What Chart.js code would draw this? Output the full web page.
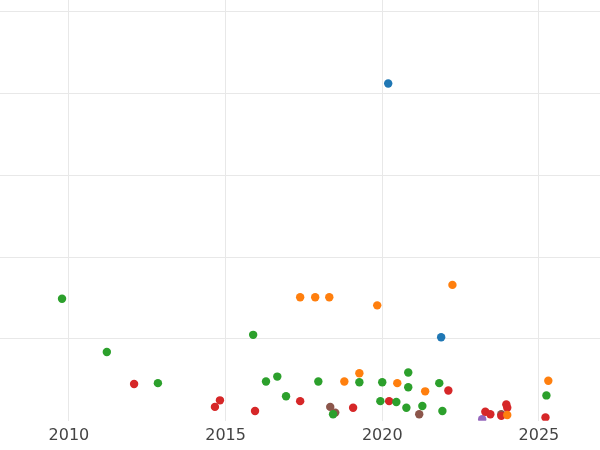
<!DOCTYPE html>
<html>
<head>
<meta charset="utf-8">
<script src="https://cdn.jsdelivr.net/npm/chart.js@4"></script>
<style>
  html, body { margin: 0; padding: 0; background: #fff; }
  #wrap { width: 600px; height: 450px; }
</style>
</head>
<body>
<div id="wrap"><canvas id="chart"></canvas></div>
<script>
// x = year, y = value
var blueX = [2020.19, 2021.88];
var blueY = [4.12, 1.02];
var orangeX = [2017.38, 2017.86, 2018.31, 2019.84, 2022.24, 2019.27, 2018.79, 2020.48, 2021.37, 2025.30, 2023.99];
var orangeY = [1.51, 1.51, 1.51, 1.41, 1.66, 0.58, 0.48, 0.46, 0.36, 0.49, 0.07];
var greenX = [2009.78, 2011.21, 2012.84, 2015.88, 2016.29, 2016.65, 2016.93, 2017.96, 2019.27, 2020.0, 2020.83, 2020.83, 2019.94, 2020.45, 2020.77, 2021.28, 2021.82, 2021.92, 2018.43, 2025.24];
var greenY = [1.49, 0.84, 0.46, 1.05, 0.48, 0.54, 0.30, 0.48, 0.47, 0.47, 0.59, 0.41, 0.24, 0.23, 0.16, 0.18, 0.46, 0.12, 0.08, 0.31];
var redX = [2012.08, 2014.82, 2014.66, 2015.94, 2017.38, 2019.07, 2020.22, 2022.11, 2023.29, 2023.45, 2023.8, 2023.96, 2023.99, 2025.21];
var redY = [0.45, 0.25, 0.17, 0.12, 0.24, 0.16, 0.24, 0.37, 0.11, 0.08, 0.06, 0.20, 0.16, 0.04];
var purpleX = [2023.19];
var purpleY = [0.02];
var brownX = [2018.34, 2018.5, 2021.18, 2023.8];
var brownY = [0.17, 0.10, 0.08, 0.08];
var xTicks = [2010, 2015, 2020, 2025];

function pts(xs, ys) {
    return xs.map(function (x, i) { return { x: x, y: ys[i] }; });
}

function series(xs, ys, color) {
    return {
        data: pts(xs, ys),
        backgroundColor: color,
        borderColor: color,
        pointRadius: 4.2,
        pointHoverRadius: 4.2,
        borderWidth: 0
    };
}

new Chart(document.getElementById('chart'), {
    type: 'scatter',
    data: {
        datasets: [
            series(blueX, blueY, '#1f77b4'),
            series(orangeX, orangeY, '#ff7f0e'),
            series(greenX, greenY, '#2ca02c'),
            series(redX, redY, '#d62728'),
            series(purpleX, purpleY, '#9467bd'),
            series(brownX, brownY, '#8c564b')
        ]
    },
    options: {
        responsive: true,
        maintainAspectRatio: false,
        animation: false,
        layout: { padding: 0, autoPadding: false },
        plugins: { legend: { display: false }, tooltip: { enabled: false } },
        scales: {
            x: {
                type: 'linear',
                min: 2007.8,
                max: 2026.95,
                afterBuildTicks: function (axis) {
                    axis.ticks = xTicks.map(function (v) { return { value: v }; });
                },
                grid: { color: '#e8e8e8', drawTicks: false },
                border: { display: false },
                ticks: {
                    color: '#444',
                    font: { family: 'DejaVu Sans', size: 16 },
                    padding: 5,
                    callback: function (v) { return String(v); }
                }
            },
            y: {
                min: 0,
                max: 5.14,
                afterBuildTicks: function (axis) {
                    axis.ticks = [1, 2, 3, 4, 5].map(function (v) { return { value: v }; });
                },
                grid: { color: '#e8e8e8', drawTicks: false },
                border: { display: false },
                ticks: { display: false }
            }
        }
    }
});
</script>
</body>
</html>
